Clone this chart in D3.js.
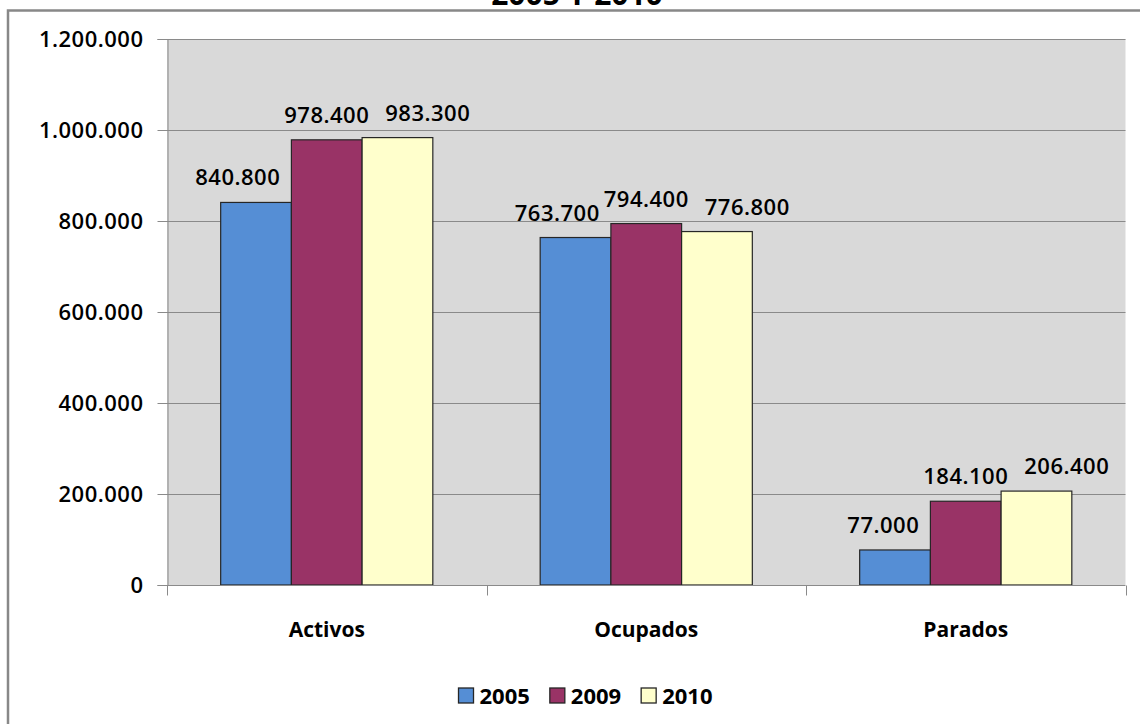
<!DOCTYPE html>
<html>
<head>
<meta charset="utf-8">
<script src="https://cdn.jsdelivr.net/npm/d3@7"></script>
<style>
  html, body { margin: 0; padding: 0; background: #ffffff; }
  svg { display: block; }
</style>
</head>
<body>
<svg id="chart" width="1140" height="724"></svg>
<script>
// ---- data ----
const titleText = "2005 Y 2010";
const categories = ["Activos", "Ocupados", "Parados"];
const seriesNames = ["2005", "2009", "2010"];
const values2005 = [840800, 763700, 77000];
const values2009 = [978400, 794400, 184100];
const values2010 = [983300, 776800, 206400];
const seriesColors = ["#558ED5", "#993366", "#FFFFCC"];
const yTickValues = [0, 200000, 400000, 600000, 800000, 1000000, 1200000];
const yMax = 1200000;

const seriesValues = [values2005, values2009, values2010];

// ---- layout ----
const svg = d3.select("#chart");
const plot = { left: 167, right: 1125.5, top: 39, bottom: 585 };
const numFont = "'Open Sans', sans-serif";

const loc = d3.formatLocale({ decimal: ",", thousands: ".", grouping: [3], currency: ["", "€"] });
const fmt = loc.format(",");

// outer frame
svg.append("rect")
  .attr("x", 8).attr("y", 10.5)
  .attr("width", 1200).attr("height", 800)
  .attr("fill", "none")
  .attr("stroke", "#888888")
  .attr("stroke-width", 2.5);

// title (cut off at the top, as in the reference)
svg.append("text")
  .attr("x", 577).attr("y", 4.5)
  .attr("text-anchor", "middle")
  .attr("font-family", numFont)
  .attr("font-weight", "bold")
  .attr("font-size", 30)
  .attr("fill", "#000")
  .text(titleText);

const x0 = d3.scaleBand()
  .domain(categories)
  .range([plot.left, plot.right])
  .paddingInner(0.336)
  .paddingOuter(0.168);

const x1 = d3.scaleBand()
  .domain(seriesNames)
  .range([0, x0.bandwidth()])
  .padding(0);

const y = d3.scaleLinear()
  .domain([0, yMax])
  .range([plot.bottom, plot.top]);

// plot background
svg.append("rect")
  .attr("x", plot.left).attr("y", plot.top)
  .attr("width", plot.right - plot.left)
  .attr("height", plot.bottom - plot.top)
  .attr("fill", "#D9D9D9");

// gridlines
svg.append("g")
  .selectAll("line")
  .data(yTickValues.filter(d => d > 0))
  .join("line")
  .attr("x1", plot.left).attr("x2", plot.right)
  .attr("y1", d => Math.round(y(d)) + 0.5)
  .attr("y2", d => Math.round(y(d)) + 0.5)
  .attr("stroke", "#8A8A8A")
  .attr("stroke-width", 1);

// y axis
const yAxis = d3.axisLeft(y)
  .tickValues(yTickValues)
  .tickSize(10)
  .tickPadding(14)
  .tickFormat(d => fmt(d));
const gy = svg.append("g")
  .attr("transform", `translate(${plot.left + 0.5},0)`)
  .call(yAxis);
gy.select(".domain").attr("stroke", "#8A8A8A");
gy.selectAll(".tick line").attr("stroke", "#8A8A8A");
gy.selectAll(".tick text")
  .attr("font-family", numFont)
  .attr("font-size", 22)
  .attr("font-weight", 600)
  .attr("letter-spacing", "0.5px")
  .attr("fill", "#000");

// bars
const groups = svg.append("g")
  .selectAll("g")
  .data(categories)
  .join("g")
  .attr("transform", d => `translate(${x0(d)},0)`);

groups.selectAll("rect")
  .data((c, ci) => seriesNames.map((s, si) => ({ cat: c, s, si, v: seriesValues[si][ci] })))
  .join("rect")
  .attr("x", d => x1(d.s))
  .attr("y", d => y(d.v))
  .attr("width", x1.bandwidth())
  .attr("height", d => y(0) - y(d.v))
  .attr("fill", d => seriesColors[d.si])
  .attr("stroke", "#262626")
  .attr("stroke-width", 1.2);

// x axis
const xAxisScale = d3.scaleLinear().domain([0, categories.length]).range([plot.left, plot.right]);
const gx = svg.append("g").attr("transform", `translate(0,${plot.bottom + 0.5})`);
gx.append("line")
  .attr("x1", plot.left).attr("x2", plot.right)
  .attr("stroke", "#8A8A8A");
gx.selectAll("line.tk")
  .data(d3.range(categories.length + 1))
  .join("line")
  .attr("class", "tk")
  .attr("x1", d => Math.round(xAxisScale(d)) + 0.5)
  .attr("x2", d => Math.round(xAxisScale(d)) + 0.5)
  .attr("y1", 0).attr("y2", 10)
  .attr("stroke", "#8A8A8A");
gx.selectAll("text")
  .data(categories)
  .join("text")
  .attr("x", d => x0(d) + x0.bandwidth() / 2)
  .attr("y", 51)
  .attr("text-anchor", "middle")
  .attr("font-family", numFont)
  .attr("font-weight", "bold")
  .attr("font-size", 21)
  .attr("fill", "#000")
  .text(d => d);

// data labels with simple collision avoidance
groups.each(function (c, ci) {
  const g = d3.select(this);
  const labels = seriesNames.map((s, si) => {
    const v = seriesValues[si][ci];
    const t = g.append("text")
      .attr("x", x1(s) + x1.bandwidth() / 2)
      .attr("y", y(v) - 17)
      .attr("text-anchor", "middle")
      .attr("font-family", numFont)
      .attr("font-size", 22)
      .attr("font-weight", 600)
      .attr("letter-spacing", "0.5px")
      .attr("fill", "#000")
      .text(fmt(v));
    return { t, cx: x1(s) + x1.bandwidth() / 2, w: t.node().getComputedTextLength() };
  });
  const mid = labels[1];
  const left = labels[0], right = labels[2];
  const overlapL = (left.cx + left.w / 2) - (mid.cx - mid.w / 2);
  if (overlapL > 0) left.t.attr("x", left.cx - overlapL - 4);
  const overlapR = (mid.cx + mid.w / 2) - (right.cx - right.w / 2);
  if (overlapR > 0) right.t.attr("x", right.cx + overlapR + 16);
});

// legend
const legend = svg.append("g");
let lx = 0;
seriesNames.forEach((s, i) => {
  const it = legend.append("g");
  it.append("rect")
    .attr("x", 0).attr("y", -7.5)
    .attr("width", 15).attr("height", 15)
    .attr("fill", seriesColors[i])
    .attr("stroke", "#262626")
    .attr("stroke-width", 1.3);
  const t = it.append("text")
    .attr("x", 21).attr("y", 8)
    .attr("font-family", numFont)
    .attr("font-weight", "bold")
    .attr("font-size", 22)
    .attr("fill", "#000")
    .text(s);
  const w = 21 + t.node().getComputedTextLength();
  it.attr("transform", `translate(${lx},0)`);
  lx += w + 20;
});
const legendWidth = lx - 20;
legend.attr("transform", `translate(${585.5 - legendWidth / 2},695.5)`);
</script>
</body>
</html>
